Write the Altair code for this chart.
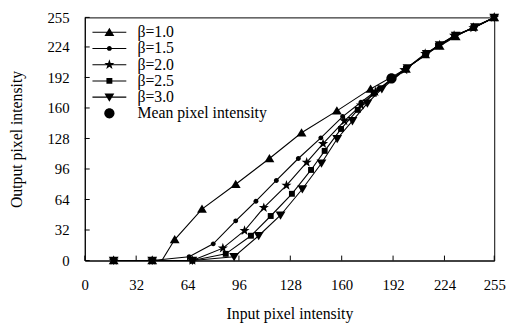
import altair as alt
import pandas as pd

# ---------------- data ----------------
series_names = ["β=1.0", "β=1.5", "β=2.0", "β=2.5", "β=3.0"]
mean_label = "Mean pixel intensity"

b10_x = [18, 42, 48, 56, 73, 94, 115, 135, 157, 178, 200, 212, 221, 231, 242, 255]
b10_y = [0, 0, 0, 22, 54, 80, 107, 134, 157, 180, 201, 216, 225, 235, 245, 255]
b10_m = [1, 1, 0, 1, 1, 1, 1, 1, 1, 1, 1, 1, 1, 1, 1, 1]

b15_x = [18, 42, 65, 80, 94, 106.6, 119.3, 133, 147, 160.6, 172, 183, 200, 213, 220, 231, 243, 255]
b15_y = [0, 0, 4, 17.5, 41.6, 62.2, 84, 107, 128.7, 151, 166, 180, 202, 216, 226, 236, 245, 255]

b20_x = [18, 42, 67, 86, 99.5, 111.5, 125.6, 138.2, 148.4, 161.7, 172, 181, 199, 212, 221, 230, 242, 255]
b20_y = [0, 0, 0, 13, 31.3, 55.4, 78.8, 102.9, 122.5, 146.5, 163, 177, 200, 217, 226, 236, 244, 255]

b25_x = [18, 42, 67, 87.8, 103.5, 115.8, 129, 140.9, 149.4, 159.6, 170, 180, 200, 212, 220, 230, 242, 255]
b25_y = [0, 0, 0, 7, 26, 46.7, 70, 95, 115, 138, 158, 175, 201, 216, 225, 235, 244, 255]

b30_x = [18, 42, 67, 93, 108.3, 121.9, 135.5, 147.4, 157.2, 166.7, 176, 185, 201, 213, 221, 231, 243, 255]
b30_y = [0, 0, 0, 4, 26, 47.5, 75, 102, 127.7, 146.5, 165, 180, 202, 217, 226, 236, 245, 255]

mean_x = [191]
mean_y = [191]

tick_values = [0, 32, 64, 96, 128, 160, 192, 224, 255]

# ---------------- tables ----------------
rows = []
for name, xs, ys, ms in [
    (series_names[0], b10_x, b10_y, b10_m),
    (series_names[1], b15_x, b15_y, [1] * len(b15_x)),
    (series_names[2], b20_x, b20_y, [1] * len(b20_x)),
    (series_names[3], b25_x, b25_y, [1] * len(b25_x)),
    (series_names[4], b30_x, b30_y, [1] * len(b30_x)),
]:
    for i, (a, b, m) in enumerate(zip(xs, ys, ms)):
        rows.append({"series": name, "x": a, "y": b, "idx": i, "mark": m})
lines_df = pd.DataFrame(rows)
pts_df = lines_df[lines_df["mark"] == 1].copy()
pts_df = pd.concat(
    [pts_df, pd.DataFrame({"series": [mean_label], "x": mean_x, "y": mean_y, "idx": [0], "mark": [1]})],
    ignore_index=True,
)
pts_df["lg"] = pts_df["series"]
ticks_df = pd.DataFrame({"v": tick_values, "x": tick_values, "y": tick_values})

# ---------------- styling ----------------
W, H = 416, 247
FONT = "Liberation Serif"
stub = "M-4.3,-0.13H4.3V0.13H-4.3Z"
marker_paths = [
    "M0,-1.15L1.25,0.95L-1.25,0.95Z",                                   # triangle up
    "M-0.62,0A0.62,0.62 0 1,1 0.62,0A0.62,0.62 0 1,1 -0.62,0Z",          # small dot
    "M0,-1.35L0.32,-0.44L1.28,-0.42L0.51,0.17L0.79,1.09L0,0.54L-0.79,1.09L-0.51,0.17L-1.28,-0.42L-0.32,-0.44Z",  # star
    "M-0.75,-0.75H0.75V0.75H-0.75Z",                                     # square
    "M0,1.15L-1.25,-0.95L1.25,-0.95Z",                                   # triangle down
    "M-1.3,0A1.3,1.3 0 1,1 1.3,0A1.3,1.3 0 1,1 -1.3,0Z",                 # mean circle
]
legend_paths = [stub + p for p in marker_paths[:5]] + [marker_paths[5]]
domain_all = series_names + [mean_label]

xscale = alt.Scale(domain=[0, 255], nice=False, zero=False)
yscale = alt.Scale(domain=[0, 255], nice=False, zero=False)

x_axis = alt.Axis(values=tick_values, ticks=False, grid=False, labelPadding=17,
                  labelOverlap=False, title="Input pixel intensity", titlePadding=14,
                  labelFont=FONT, labelFontSize=15, titleFont=FONT, titleFontSize=16,
                  titleFontWeight="normal", labelColor="black", titleColor="black",
                  domainColor="black", labelFlush=False)
y_axis = alt.Axis(values=tick_values, ticks=False, grid=False, labelPadding=16,
                  labelOverlap=False, title="Output pixel intensity", titlePadding=23,
                  labelFont=FONT, labelFontSize=15, titleFont=FONT, titleFontSize=16,
                  titleFontWeight="normal", labelColor="black", titleColor="black",
                  domainColor="black", labelFlush=False)

X = alt.X("x:Q", scale=xscale, axis=x_axis, title="Input pixel intensity")
Y = alt.Y("y:Q", scale=yscale, axis=y_axis, title="Output pixel intensity")

lines = alt.Chart(lines_df).mark_line(color="black", strokeWidth=1.1).encode(
    x=X, y=Y, detail="series:N", order="idx:Q",
)

points = alt.Chart(pts_df).mark_point(filled=True, color="black", opacity=1, size=64).encode(
    x=X, y=Y,
    shape=alt.Shape("series:N", scale=alt.Scale(domain=domain_all, range=marker_paths), legend=None),
)

# legend-only layer: no rows are drawn, the explicit domain gives the legend entries
legend_layer = alt.Chart(pts_df).transform_filter("false").mark_point(
    filled=True, color="black", opacity=1, size=64
).encode(
    x=X, y=Y,
    shape=alt.Shape(
        "lg:N",
        scale=alt.Scale(domain=domain_all, range=legend_paths),
        legend=alt.Legend(
            title=None, orient="none", legendX=17, legendY=7, padding=0,
            labelFont=FONT, labelFontSize=16, labelColor="black", labelOffset=20.5,
            symbolSize=64, rowPadding=0.5, labelLimit=300,
            symbolFillColor="black", symbolStrokeWidth=0,
        ),
    ),
)

xticks = alt.Chart(ticks_df).mark_rule(color="black", strokeWidth=1).encode(
    x=X, y=alt.value(H), y2=alt.value(H - 5)
)
yticks = alt.Chart(ticks_df).mark_rule(color="black", strokeWidth=1).encode(
    y=Y, x=alt.value(0), x2=alt.value(5)
)

chart = alt.layer(lines, xticks, yticks, points, legend_layer).resolve_scale(
    shape="independent"
).resolve_legend(shape="independent").properties(
    width=W, height=H,
    autosize=alt.AutoSizeParams(type="none"),
    padding={"left": 78, "top": 7, "right": 15, "bottom": 66},
    background="white",
).configure_view(stroke="black", strokeWidth=1).configure_axis(
    labelFont=FONT, titleFont=FONT, labelOverlap=False
).configure_legend(labelFont=FONT)

chart.save("out.html", embed_options={"renderer": "svg", "actions": False})
